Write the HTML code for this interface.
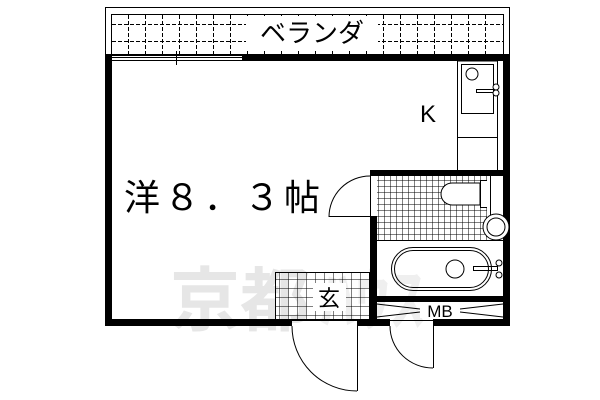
<!DOCTYPE html>
<html><head><meta charset="utf-8"><style>
html,body{margin:0;padding:0;background:#fff;width:600px;height:400px;overflow:hidden}
svg{display:block}
text{font-family:"Liberation Sans","Noto Sans CJK JP",sans-serif}
</style></head><body>
<svg width="600" height="400" viewBox="0 0 600 400" xmlns="http://www.w3.org/2000/svg">
<defs>
<pattern id="g" width="6" height="6" patternUnits="userSpaceOnUse">
<path d="M0 0H6M0 0V6" stroke="#000" stroke-width="1" fill="none"/>
</pattern>
<pattern id="g2" width="9" height="9" patternUnits="userSpaceOnUse">
<path d="M0 0H9M0 0V9" stroke="#000" stroke-width="1" fill="none"/>
</pattern>
</defs>
<!-- watermark -->
<text x="170" y="325" font-size="70" font-weight="bold" fill="#e6e6e6">京都</text>
<text x="320" y="325" font-size="70" font-weight="bold" fill="#efefef">ﾊｳｽ</text>
<!-- veranda -->
<rect x="105.5" y="7.5" width="404" height="50" fill="#fff" stroke="#000"/>
<rect x="111.5" y="14.5" width="392" height="40" fill="none" stroke="#000"/>
<g stroke="#000" stroke-width="1" stroke-dasharray="4 2">
<line x1="112" y1="24.5" x2="503" y2="24.5"/>
<line x1="112" y1="41.5" x2="503" y2="41.5"/>
<line x1="128.5" y1="15" x2="128.5" y2="54"/>
<line x1="145.5" y1="15" x2="145.5" y2="54"/>
<line x1="162.5" y1="15" x2="162.5" y2="54"/>
<line x1="179.5" y1="15" x2="179.5" y2="54"/>
<line x1="196.5" y1="15" x2="196.5" y2="54"/>
<line x1="213.5" y1="15" x2="213.5" y2="54"/>
<line x1="230.5" y1="15" x2="230.5" y2="54"/>
<line x1="247.5" y1="15" x2="247.5" y2="54"/>
<line x1="264.5" y1="15" x2="264.5" y2="54"/>
<line x1="281.5" y1="15" x2="281.5" y2="54"/>
<line x1="298.5" y1="15" x2="298.5" y2="54"/>
<line x1="315.5" y1="15" x2="315.5" y2="54"/>
<line x1="332.5" y1="15" x2="332.5" y2="54"/>
<line x1="349.5" y1="15" x2="349.5" y2="54"/>
<line x1="366.5" y1="15" x2="366.5" y2="54"/>
<line x1="383.5" y1="15" x2="383.5" y2="54"/>
<line x1="400.5" y1="15" x2="400.5" y2="54"/>
<line x1="417.5" y1="15" x2="417.5" y2="54"/>
<line x1="434.5" y1="15" x2="434.5" y2="54"/>
<line x1="451.5" y1="15" x2="451.5" y2="54"/>
<line x1="468.5" y1="15" x2="468.5" y2="54"/>
<line x1="485.5" y1="15" x2="485.5" y2="54"/>
</g>
<rect x="246" y="16" width="132" height="33" fill="#fff"/>
<text x="312" y="42" font-size="26" text-anchor="middle">ベランダ</text>
<!-- walls -->
<rect x="242" y="54" width="268" height="7" fill="#000"/>
<rect x="105" y="54" width="7" height="272" fill="#000"/>
<rect x="503" y="54" width="7" height="272" fill="#000"/>
<rect x="105" y="54" width="137" height="2" fill="#000"/>
<line x1="112" y1="57.5" x2="242" y2="57.5" stroke="#000"/>
<line x1="112" y1="60.5" x2="242" y2="60.5" stroke="#000"/>
<line x1="176.5" y1="51" x2="176.5" y2="65" stroke="#000"/>
<!-- kitchen -->
<rect x="457.5" y="61" width="40" height="110" fill="none" stroke="#000"/>
<line x1="457" y1="137.5" x2="497" y2="137.5" stroke="#000"/>
<rect x="461.5" y="64.5" width="32" height="49" fill="none" stroke="#000"/>
<circle cx="472" cy="74" r="6" fill="none" stroke="#000"/>
<rect x="476.5" y="89.5" width="17" height="3" fill="none" stroke="#000"/>
<circle cx="496" cy="87" r="3" fill="#fff" stroke="#000"/>
<circle cx="496" cy="93" r="3" fill="#fff" stroke="#000"/>
<text x="420" y="122" font-size="24">K</text>
<!-- room label -->
<text x="124" y="210" font-size="36" letter-spacing="4">洋８．３帖</text>
<!-- bath block -->
<rect x="370" y="170" width="140" height="6" fill="#000"/>
<line x1="370.5" y1="176" x2="370.5" y2="217" stroke="#000"/>
<rect x="370" y="216" width="7" height="110" fill="#000"/>
<rect x="377" y="176" width="110" height="64" fill="url(#g)"/>
<line x1="377" y1="240.5" x2="503" y2="240.5" stroke="#000"/>
<path d="M452 183H480V205H452A11 11 0 0 1 452 183Z" fill="#fff" stroke="#000"/>
<rect x="480.5" y="180.5" width="10" height="27" fill="#fff" stroke="#000"/>
<rect x="487" y="176" width="16" height="40" fill="#fff"/>
<line x1="490.5" y1="176" x2="490.5" y2="215" stroke="#000"/>
<circle cx="496" cy="227" r="13" fill="#fff" stroke="#000"/>
<circle cx="496" cy="227" r="9" fill="none" stroke="#000"/>
<rect x="391.5" y="247.5" width="100" height="43" rx="21.5" fill="none" stroke="#000"/>
<rect x="394.5" y="250.5" width="94" height="37" rx="18.5" fill="none" stroke="#000"/>
<circle cx="455" cy="269" r="9" fill="none" stroke="#000"/>
<rect x="473.5" y="266.5" width="24" height="4" fill="none" stroke="#000"/>
<circle cx="499" cy="263" r="3" fill="#fff" stroke="#000"/>
<circle cx="499" cy="275" r="3" fill="#fff" stroke="#000"/>
<rect x="377" y="296" width="133" height="6" fill="#000"/>
<!-- MB -->
<path d="M377 304L420 309M377 317L420 312M503 304L460 309M503 317L460 312" stroke="#000"/>
<rect x="420" y="302" width="40" height="16" fill="#fff"/>
<text x="440" y="317" font-size="17" text-anchor="middle">MB</text>
<!-- entrance -->
<rect x="275.5" y="272.5" width="94" height="47" fill="url(#g2)" stroke="#000"/>
<rect x="313" y="283" width="33" height="28" fill="#fff"/>
<text x="329" y="306" font-size="22" text-anchor="middle">玄</text>
<!-- bottom wall -->
<rect x="105" y="319" width="187" height="7" fill="#000"/>
<rect x="357" y="319" width="33" height="7" fill="#000"/>
<rect x="433" y="319" width="77" height="7" fill="#000"/>
<line x1="292" y1="320.5" x2="357" y2="320.5" stroke="#000"/>
<line x1="390" y1="320.5" x2="433" y2="320.5" stroke="#000"/>
<!-- doors -->
<line x1="357.5" y1="326" x2="357.5" y2="391" stroke="#000"/>
<path d="M292 326A65 65 0 0 0 357 391" fill="none" stroke="#000"/>
<line x1="433.5" y1="326" x2="433.5" y2="368" stroke="#000"/>
<path d="M390 326A43 42 0 0 0 433 368" fill="none" stroke="#000"/>
<line x1="329" y1="216.5" x2="370" y2="216.5" stroke="#000"/>
<path d="M370 176A41 41 0 0 0 329 217" fill="none" stroke="#000"/>
</svg>
</body></html>
